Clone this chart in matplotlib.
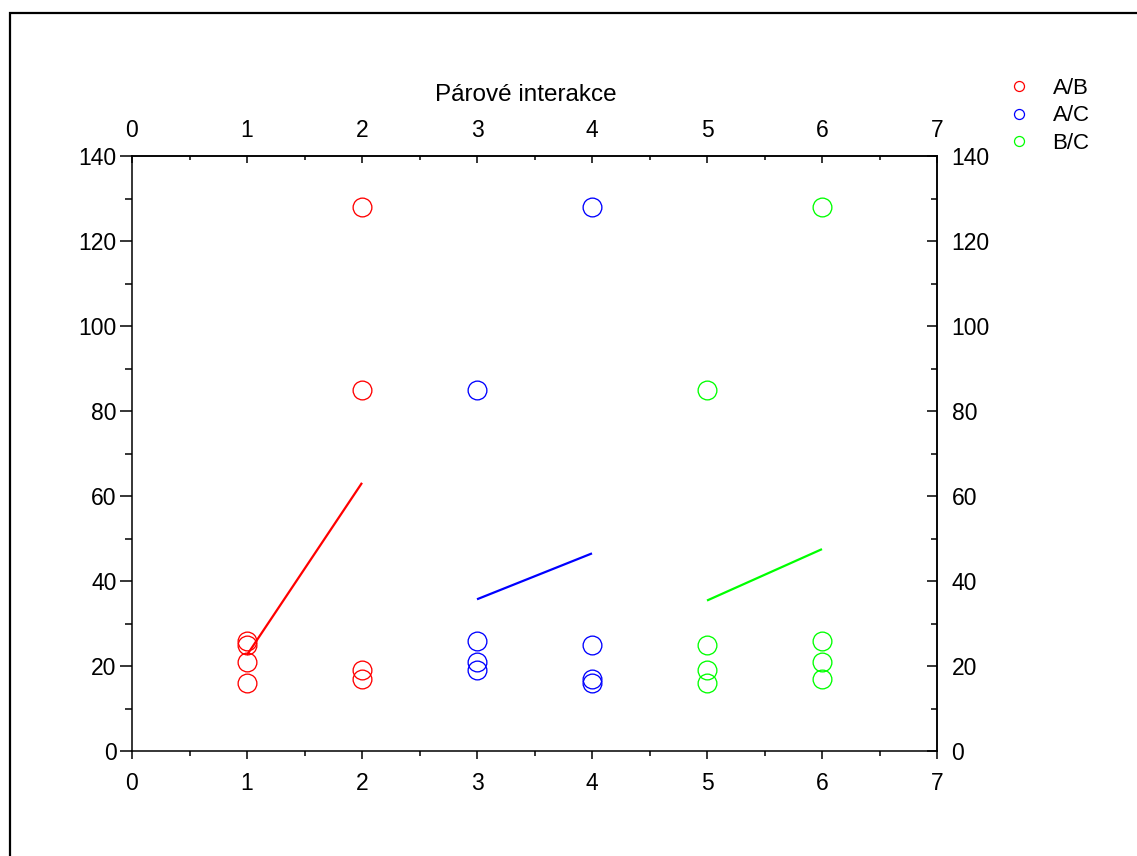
import matplotlib
matplotlib.use("Agg")
import matplotlib.pyplot as plt
from matplotlib.lines import Line2D
from matplotlib.patches import Rectangle
from matplotlib.ticker import MultipleLocator

plt.rcParams['font.family'] = ['Liberation Sans', 'DejaVu Sans']

# ---- data ----
series_names = ["A/B", "A/C", "B/C"]
series_colors = ["#ff0000", "#0000ff", "#00ff00"]

ab_x = [1, 1, 1, 1, 2, 2, 2, 2]
ab_y = [16, 21, 25, 26, 17, 19, 85, 128]
ac_x = [3, 3, 3, 3, 4, 4, 4, 4]
ac_y = [19, 21, 26, 85, 16, 17, 25, 128]
bc_x = [5, 5, 5, 5, 6, 6, 6, 6]
bc_y = [16, 19, 25, 85, 17, 21, 26, 128]

ab_line_x = [1, 2]
ab_line_y = [22.6, 63.1]
ac_line_x = [3, 4]
ac_line_y = [35.7, 46.5]
bc_line_x = [5, 6]
bc_line_y = [35.4, 47.5]

x_ticks = [0, 1, 2, 3, 4, 5, 6, 7]
y_ticks = [0, 20, 40, 60, 80, 100, 120, 140]
title = "Párové interakce"

W, H = 1137, 856
fig = plt.figure(figsize=(W / 100, H / 100), dpi=100)
ax = fig.add_axes([132 / W, 1 - 751 / H, (937 - 132) / W, (751 - 156) / H])

xs = [ab_x, ac_x, bc_x]
ys = [ab_y, ac_y, bc_y]
lxs = [ab_line_x, ac_line_x, bc_line_x]
lys = [ab_line_y, ac_line_y, bc_line_y]
for x, y, lx, ly, c in zip(xs, ys, lxs, lys, series_colors):
    ax.plot(x, y, linestyle='none', marker='o', markersize=13.5,
            markerfacecolor='none', markeredgecolor=c, markeredgewidth=0.95)
    ax.plot(lx, ly, color=c, linewidth=1.6, solid_capstyle='butt')

ax.set_xlim(x_ticks[0], x_ticks[-1])
ax.set_ylim(y_ticks[0], y_ticks[-1])
ax.set_xticks(x_ticks)
ax.set_yticks(y_ticks)
ax.xaxis.set_minor_locator(MultipleLocator(0.5))
ax.yaxis.set_minor_locator(MultipleLocator(10))
fs = 16.5
ax.tick_params(axis='x', which='major', direction='out', length=6, width=1.1,
               labelsize=fs, pad=9)
ax.tick_params(axis='x', which='minor', direction='out', length=3.6, width=1.1)
ax.tick_params(axis='y', which='major', direction='out', length=8.6, width=1.1,
               labelsize=fs, pad=2.5)
ax.tick_params(axis='y', which='minor', direction='out', length=5, width=1.1)
for s in ax.spines.values():
    s.set_linewidth(1.1)

secx = ax.secondary_xaxis('top')
secx.set_xticks(x_ticks)
secx.xaxis.set_minor_locator(MultipleLocator(0.5))
secx.tick_params(axis='x', which='major', direction='in', length=5, width=1.1,
                 labelsize=fs, pad=10)
secx.tick_params(axis='x', which='minor', direction='in', length=3, width=1.1)
secx.spines['top'].set_linewidth(1.1)

secy = ax.secondary_yaxis('right')
secy.set_yticks(y_ticks)
secy.yaxis.set_minor_locator(MultipleLocator(10))
secy.tick_params(axis='y', which='major', direction='in', length=7, width=1.1,
                 labelsize=fs, pad=10.5)
secy.tick_params(axis='y', which='minor', direction='in', length=4, width=1.1)
secy.spines['right'].set_linewidth(1.1)

fig.text(525.5 / W, 1 - 95 / H, title, ha='center', va='center', fontsize=17.5)

handles = [Line2D([], [], linestyle='none', marker='o', markersize=7.2,
                  markerfacecolor='none', markeredgecolor=c, markeredgewidth=0.9)
           for c in series_colors]
fig.legend(handles, series_names, loc='upper left',
           bbox_to_anchor=(997 / W, 1 - 69 / H), frameon=False, fontsize=fs - 0.5,
           handletextpad=0.9, labelspacing=0.29, borderaxespad=0, handlelength=1.2)

fig.patches.append(Rectangle((10 / W, -0.1), 1.2, (1 - 13 / H) + 0.1,
                             transform=fig.transFigure, fill=False,
                             edgecolor='black', linewidth=1.6))

fig.savefig("out.png", dpi=100)
